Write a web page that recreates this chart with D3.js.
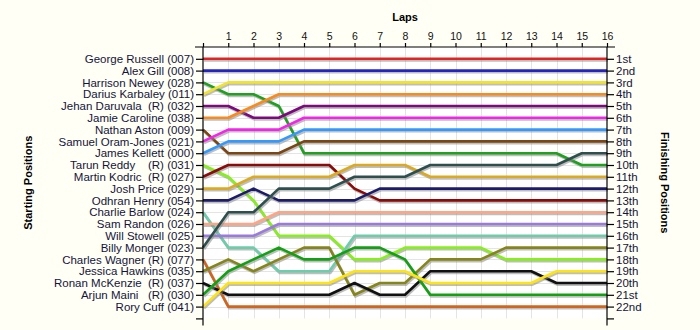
<!DOCTYPE html>
<html>
<head>
<meta charset="utf-8">
<script src="https://cdn.jsdelivr.net/npm/d3@7/dist/d3.min.js"></script>
<style>
  body { margin: 0; background: #fffff5; }
  text { font-family: "Liberation Sans", Arial, sans-serif; }
</style>
</head>
<body>
<div id="root"></div>
<script>
// drivers in starting order
var drivers = [
  "George Russell (007)", "Alex Gill (008)", "Harrison Newey (028)", "Darius Karbaley (011)",
  "Jehan Daruvala  (R) (032)", "Jamie Caroline (038)", "Nathan Aston (009)", "Samuel Oram-Jones (021)",
  "James Kellett (000)", "Tarun Reddy    (R) (031)", "Martin Kodric  (R) (027)", "Josh Price (029)",
  "Odhran Henry (054)", "Charlie Barlow (024)", "Sam Randon (026)", "Will Stowell (025)",
  "Billy Monger (023)", "Charles Wagner (R) (077)", "Jessica Hawkins (035)", "Ronan McKenzie  (R) (037)",
  "Arjun Maini   (R) (030)", "Rory Cuff (041)"
];

var colors = [
  "#e02424", "#2424c0", "#1fa01f", "#f2e32e", "#7c0a7c", "#f88a1e", "#7b4612", "#f524ea",
  "#3399ff", "#86f01a", "#8b0a0a", "#dcaa22", "#1c1c6a", "#6ccdaa", "#ffa585", "#9a7ade",
  "#2f4f4f", "#d0651e", "#85851a", "#111111", "#13a013", "#ffe414"
];

var laps = [0, 1, 2, 3, 4, 5, 6, 7, 8, 9, 10, 11, 12, 13, 14, 15, 16];

var finishLabels = ["1st", "2nd", "3rd", "4th", "5th", "6th", "7th", "8th", "9th", "10th", "11th",
  "12th", "13th", "14th", "15th", "16th", "17th", "18th", "19th", "20th", "21st", "22nd"];

// position of each driver at lap 0..16
var positions = [
  [1, 1, 1, 1, 1, 1, 1, 1, 1, 1, 1, 1, 1, 1, 1, 1, 1],
  [2, 2, 2, 2, 2, 2, 2, 2, 2, 2, 2, 2, 2, 2, 2, 2, 2],
  [3, 4, 4, 5, 9, 9, 9, 9, 9, 9, 9, 9, 9, 9, 9, 10, 10],
  [4, 3, 3, 3, 3, 3, 3, 3, 3, 3, 3, 3, 3, 3, 3, 3, 3],
  [5, 5, 6, 6, 5, 5, 5, 5, 5, 5, 5, 5, 5, 5, 5, 5, 5],
  [6, 6, 5, 4, 4, 4, 4, 4, 4, 4, 4, 4, 4, 4, 4, 4, 4],
  [7, 9, 9, 9, 8, 8, 8, 8, 8, 8, 8, 8, 8, 8, 8, 8, 8],
  [8, 7, 7, 7, 6, 6, 6, 6, 6, 6, 6, 6, 6, 6, 6, 6, 6],
  [9, 8, 8, 8, 7, 7, 7, 7, 7, 7, 7, 7, 7, 7, 7, 7, 7],
  [10, 11, 13, 16, 16, 16, 18, 18, 17, 17, 17, 17, 18, 18, 18, 18, 18],
  [11, 10, 10, 10, 10, 10, 12, 13, 13, 13, 13, 13, 13, 13, 13, 13, 13],
  [12, 12, 11, 11, 11, 11, 10, 10, 10, 11, 11, 11, 11, 11, 11, 11, 11],
  [13, 13, 12, 13, 13, 13, 13, 12, 12, 12, 12, 12, 12, 12, 12, 12, 12],
  [14, 17, 17, 19, 19, 19, 16, 16, 16, 16, 16, 16, 16, 16, 16, 16, 16],
  [15, 15, 15, 14, 14, 14, 14, 14, 14, 14, 14, 14, 14, 14, 14, 14, 14],
  [16, 16, 16, 15, 15, 15, 15, 15, 15, 15, 15, 15, 15, 15, 15, 15, 15],
  [17, 14, 14, 12, 12, 12, 11, 11, 11, 10, 10, 10, 10, 10, 10, 9, 9],
  [18, 22, 22, 22, 22, 22, 22, 22, 22, 22, 22, 22, 22, 22, 22, 22, 22],
  [19, 18, 19, 18, 17, 17, 21, 20, 20, 18, 18, 18, 17, 17, 17, 17, 17],
  [20, 21, 21, 21, 21, 21, 20, 21, 21, 19, 19, 19, 19, 19, 20, 20, 20],
  [21, 19, 18, 17, 18, 18, 17, 17, 18, 21, 21, 21, 21, 21, 21, 21, 21],
  [22, 20, 20, 20, 20, 20, 19, 19, 19, 20, 20, 20, 20, 20, 19, 19, 19]
];

var W = 700, H = 330;
var plotLeft = 203, plotRight = 607, plotTop = 47, plotBottom = 318.4;

var svg = d3.select("#root").append("svg")
  .attr("width", W).attr("height", H);

var x = d3.scaleLinear().domain([0, 16]).range([plotLeft, plotRight]);
var y = d3.scaleLinear().domain([0, 23]).range([plotTop, plotBottom]);

// plot background
svg.append("rect")
  .attr("x", plotLeft).attr("y", plotTop)
  .attr("width", plotRight - plotLeft).attr("height", plotBottom - plotTop)
  .attr("fill", "#ffffff");

// grid
var grid = svg.append("g").attr("stroke", "#e4e4e4").attr("stroke-width", 1);
grid.selectAll("line.v").data(laps.slice(1, -1)).join("line")
  .attr("x1", d => Math.round(x(d)) + 0.5).attr("x2", d => Math.round(x(d)) + 0.5)
  .attr("y1", plotTop).attr("y2", plotBottom);
grid.selectAll("line.h").data(d3.range(1, 23)).join("line")
  .attr("x1", plotLeft).attr("x2", plotRight)
  .attr("y1", d => Math.round(y(d)) + 0.5).attr("y2", d => Math.round(y(d)) + 0.5);

// lines with a soft shadow
var line = d3.line()
  .x((d, i) => x(laps[i]))
  .y(d => y(d));

var series = svg.append("g");
positions.forEach(function (p, i) {
  series.append("path")
    .attr("d", line(p))
    .attr("fill", "none")
    .attr("stroke", "#888")
    .attr("stroke-opacity", 0.55)
    .attr("stroke-width", 3)
    .attr("transform", "translate(1,1.5)");
  series.append("path")
    .attr("d", line(p))
    .attr("fill", "none")
    .attr("stroke", colors[i])
    .attr("stroke-width", 2.6)
    .attr("stroke-linejoin", "round");
});

// frame
var frame = svg.append("g").attr("stroke", "#000").attr("stroke-width", 1.2);
frame.append("line").attr("x1", plotLeft - 8).attr("x2", plotRight + 8).attr("y1", plotTop).attr("y2", plotTop);
frame.append("line").attr("x1", plotLeft).attr("x2", plotLeft).attr("y1", plotTop).attr("y2", plotBottom + 7);
frame.append("line").attr("x1", plotRight).attr("x2", plotRight).attr("y1", plotTop).attr("y2", plotBottom + 7);

// top axis
var xAxis = d3.axisTop(x)
  .tickValues(laps)
  .tickSize(4)
  .tickSizeOuter(0)
  .tickPadding(3)
  .tickFormat(d => d === 0 ? "" : d);
var gx = svg.append("g").attr("transform", "translate(0," + plotTop + ")").call(xAxis);
gx.select(".domain").remove();
gx.selectAll("text").attr("font-size", 10.5).attr("fill", "#111");
gx.selectAll("line").attr("stroke-width", 1.2);

// left axis: starting positions
var yLeft = d3.axisLeft(y)
  .tickValues(d3.range(1, 24))
  .tickSize(7)
  .tickSizeOuter(0)
  .tickPadding(2)
  .tickFormat(d => drivers[d - 1] || "");
var gl = svg.append("g").attr("transform", "translate(" + plotLeft + ",0)").call(yLeft);
gl.select(".domain").remove();
gl.selectAll("text").attr("font-size", 11.5).attr("fill", "#14143c").style("white-space", "pre");
gl.selectAll("line").attr("stroke-width", 1.2);

// right axis: finishing positions
var yRight = d3.axisRight(y)
  .tickValues(d3.range(1, 24))
  .tickSize(7)
  .tickSizeOuter(0)
  .tickPadding(2)
  .tickFormat(d => finishLabels[d - 1] || "");
var gr = svg.append("g").attr("transform", "translate(" + plotRight + ",0)").call(yRight);
gr.select(".domain").remove();
gr.selectAll("text").attr("font-size", 11.5).attr("fill", "#14143c");
gr.selectAll("line").attr("stroke-width", 1.2);

// titles
svg.append("text")
  .attr("x", (plotLeft + plotRight) / 2).attr("y", 21)
  .attr("text-anchor", "middle")
  .attr("font-size", 11).attr("font-weight", "bold")
  .text("Laps");

svg.append("text")
  .attr("transform", "translate(32," + ((plotTop + plotBottom) / 2) + ") rotate(-90)")
  .attr("text-anchor", "middle")
  .attr("font-size", 11).attr("font-weight", "bold")
  .text("Starting Positions");

svg.append("text")
  .attr("transform", "translate(661," + ((plotTop + plotBottom) / 2) + ") rotate(90)")
  .attr("text-anchor", "middle")
  .attr("font-size", 11).attr("font-weight", "bold")
  .text("Finishing Positions");
</script>
</body>
</html>
